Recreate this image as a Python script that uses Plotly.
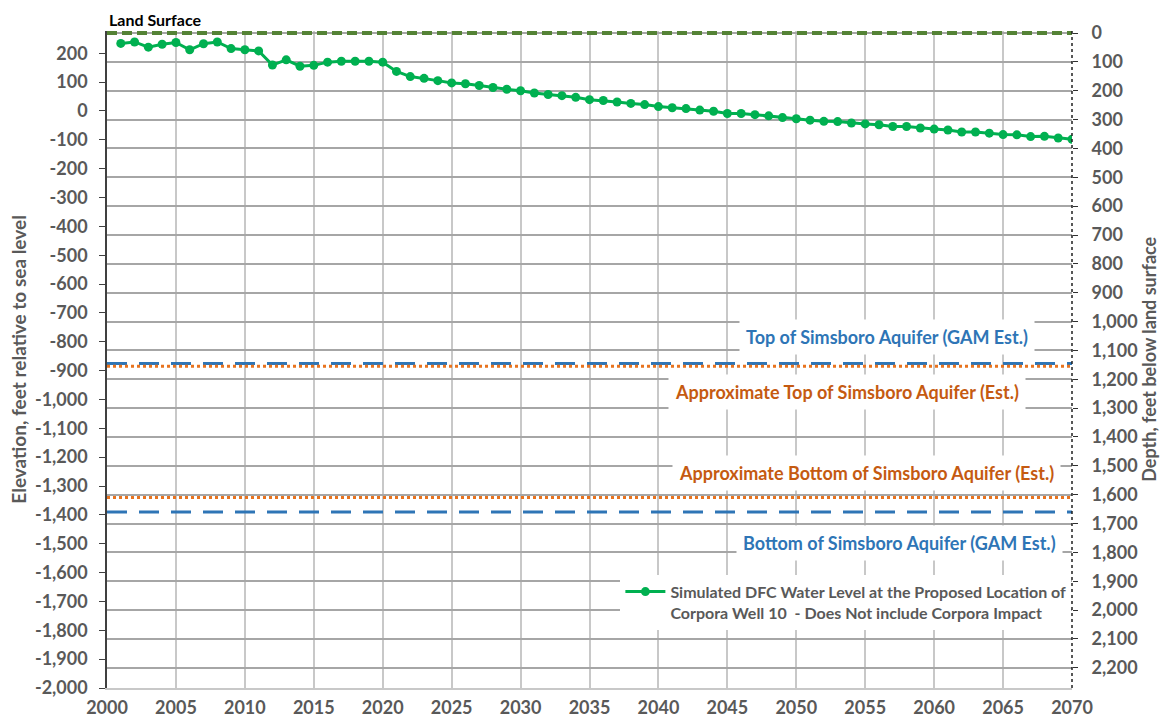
import plotly.graph_objects as go

years = list(range(2001, 2071))
water_level = [234, 239, 221, 231, 237, 212, 233, 239, 216, 212,
               208, 159, 177, 155, 158, 169, 172, 172, 172, 169,
               137, 119, 113, 105, 97, 94, 88, 81, 75, 70,
               62, 57, 53, 47, 39, 36, 31, 26, 22, 15,
               11, 8, 3, -1, -9, -9, -13, -17, -23, -27,
               -32, -36, -37, -42, -45, -48, -54, -54, -59, -63,
               -66, -73, -73, -77, -82, -83, -89, -88, -94, -98]

x_span = [2000, 2070]
land_surface = 270
top_gam = -875
top_est = -885
bottom_est = -1340
bottom_gam = -1390

left_ticks = list(range(-2000, 201, 100))
left_labels = [f"{v:,}" for v in left_ticks]
right_ticks = list(range(0, 2201, 100))
right_labels = [f"{v:,}" for v in right_ticks]
x_ticks = list(range(2000, 2071, 5))

FONT = "Lato"
GRAY = "#595959"
BLUE = "#2E75B6"
ORANGE_LINE = "#E8731E"
ORANGE_TEXT = "#C55A11"

PAD = 7  # small headroom so the land-surface line is not clipped

fig = go.Figure()

fig.add_trace(go.Scatter(x=x_span, y=[top_gam, top_gam], mode="lines",
                         line=dict(color=BLUE, width=3, dash="20px,12px"),
                         showlegend=False, hoverinfo="skip"))
fig.add_trace(go.Scatter(x=x_span, y=[top_est, top_est], mode="lines",
                         line=dict(color=ORANGE_LINE, width=3, dash="dot"),
                         showlegend=False, hoverinfo="skip"))
fig.add_trace(go.Scatter(x=x_span, y=[bottom_est, bottom_est], mode="lines",
                         line=dict(color=ORANGE_LINE, width=3, dash="dot"),
                         showlegend=False, hoverinfo="skip"))
fig.add_trace(go.Scatter(x=x_span, y=[bottom_gam, bottom_gam], mode="lines",
                         line=dict(color=BLUE, width=3, dash="20px,12px"),
                         showlegend=False, hoverinfo="skip"))
fig.add_trace(go.Scatter(x=x_span, y=[land_surface, land_surface], mode="lines",
                         line=dict(color="#548235", width=4, dash="10px,5px"),
                         showlegend=False, hoverinfo="skip"))
fig.add_trace(go.Scatter(
    x=years, y=water_level, mode="lines+markers",
    line=dict(color="#00B050", width=3),
    marker=dict(color="#00B050", size=9),
    name="Simulated DFC Water Level at the Proposed Location of<br>Corpora Well 10  - Does Not include Corpora Impact",
    showlegend=True))
fig.add_trace(go.Scatter(x=[2000], y=[0], yaxis="y2", mode="markers",
                         marker=dict(opacity=0), showlegend=False, hoverinfo="skip"))

annots = [
    dict(text="Top of Simsboro Aquifer (GAM Est.)", x=2056.6, y=-784, color=BLUE),
    dict(text="Approximate Top of Simsboro Aquifer (Est.)", x=2053.7, y=-974, color=ORANGE_TEXT),
    dict(text="Approximate Bottom of Simsboro Aquifer (Est.)", x=2055.1, y=-1254, color=ORANGE_TEXT),
    dict(text="Bottom of Simsboro Aquifer (GAM Est.)", x=2057.5, y=-1497, color=BLUE),
]
annotations = []
for a in annots:
    annotations.append(dict(
        text=a["text"], x=a["x"], y=a["y"], xref="x", yref="y", showarrow=False,
        font=dict(family=FONT, size=18, color=a["color"], weight="bold"),
        bgcolor="white", borderpad=6))

annotations.append(dict(text="Land Surface", x=0, y=1, xref="paper", yref="paper",
                        xanchor="left", yanchor="bottom", yshift=0, showarrow=False,
                        font=dict(family=FONT, size=16, color="black", weight="bold")))
annotations.append(dict(text="Elevation, feet relative to sea level", x=-0.092, y=0.5,
                        xref="paper", yref="paper", xanchor="center", yanchor="middle",
                        textangle=-90, showarrow=False,
                        font=dict(family=FONT, size=19, color=GRAY, weight="bold")))
annotations.append(dict(text="Depth, feet below land surface", x=1.079, y=0.5,
                        xref="paper", yref="paper", xanchor="center", yanchor="middle",
                        textangle=-90, showarrow=False,
                        font=dict(family=FONT, size=18, color=GRAY, weight="bold")))

tickfont = dict(family=FONT, size=18, color=GRAY, weight="bold")

# page body has an 8px margin; size the figure so the plot lands where the reference has it
fig.update_layout(
    width=1153, height=709,
    margin=dict(l=99, r=89, t=23, b=29),
    paper_bgcolor="white", plot_bgcolor="white",
    font=dict(family=FONT, color=GRAY),
    xaxis=dict(range=x_span, tickvals=x_ticks, showgrid=True, gridcolor="#C8C8C8",
               gridwidth=1.5, showline=True, linecolor="#C8C8C8", linewidth=1.5,
               ticks="", zeroline=False, ticklabelstandoff=3, automargin=False,
               tickfont=tickfont),
    yaxis=dict(range=[-2000, land_surface + PAD], tickvals=left_ticks, ticktext=left_labels,
               showgrid=False, zeroline=False, showline=True, linecolor="#404040",
               linewidth=1.5, ticks="outside", ticklen=6, tickcolor="#404040",
               ticklabelstandoff=8, automargin=False, tickfont=tickfont),
    yaxis2=dict(range=[2000 + land_surface, -PAD], overlaying="y", side="right",
                tickvals=right_ticks, ticktext=right_labels, showgrid=True,
                gridcolor="#A6A6A6", gridwidth=1.5, zeroline=False, showline=False,
                ticks="outside", ticklen=5, tickcolor="#303030", ticklabelstandoff=10,
                automargin=False, tickfont=tickfont),
    legend=dict(x=0.532, y=0.1725, xanchor="left", yanchor="top",
                bgcolor="white", valign="top", itemwidth=40,
                font=dict(family=FONT, size=16, color=GRAY, weight="bold")),
    annotations=annotations,
    shapes=[dict(type="line", xref="paper", yref="paper", x0=1, x1=1, y0=0, y1=1,
                 line=dict(color="#202020", width=1.5, dash="dot"))],
)

fig.write_html("out.html")
